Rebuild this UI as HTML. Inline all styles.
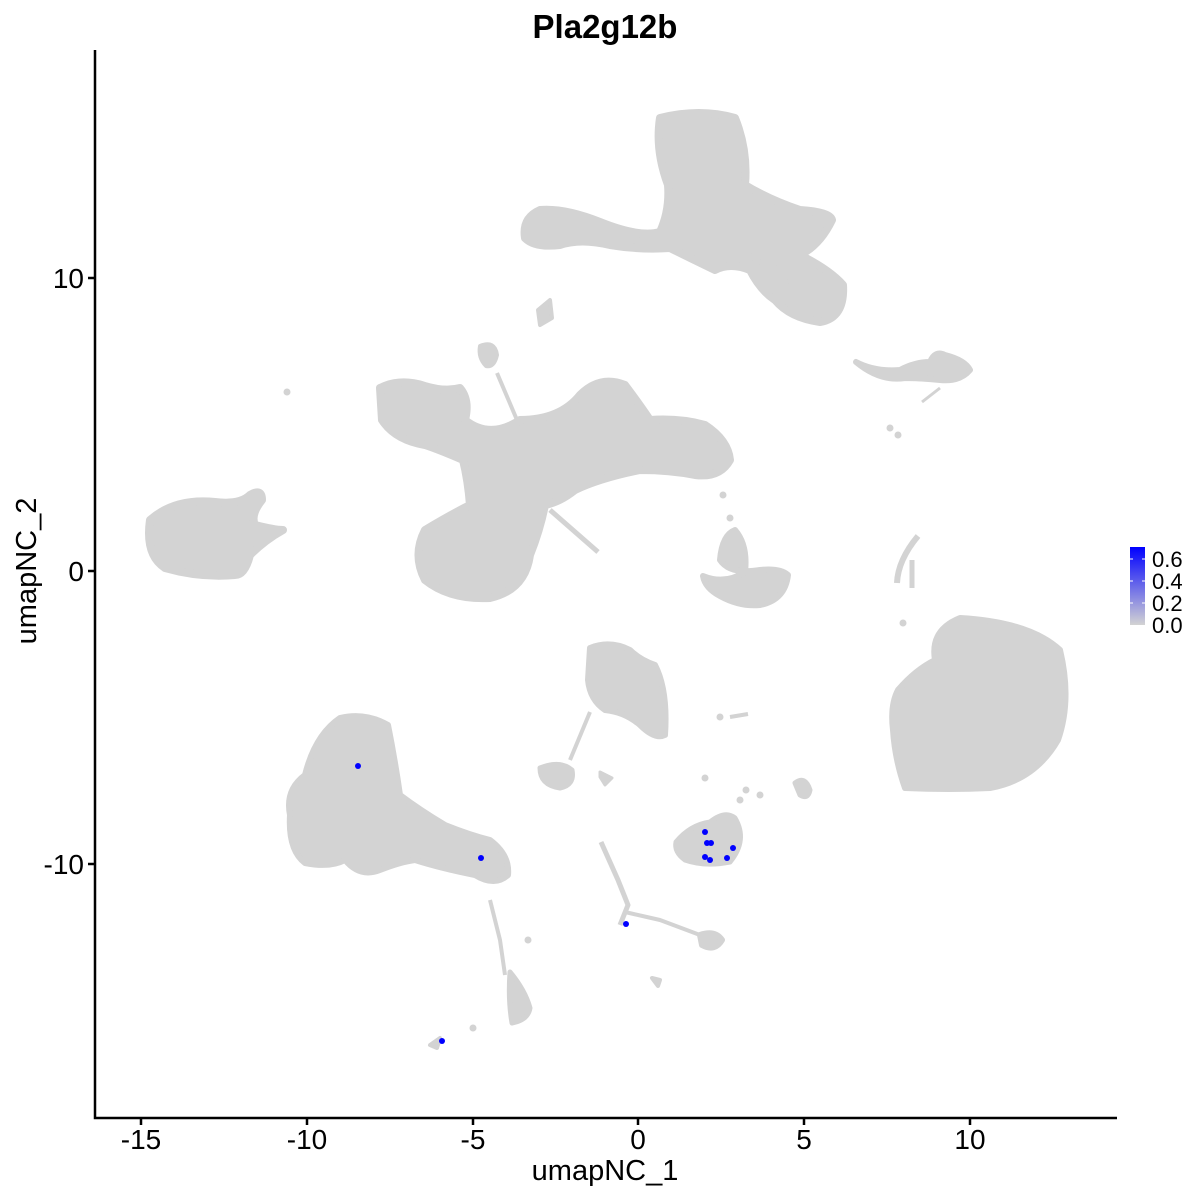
<!DOCTYPE html>
<html><head><meta charset="utf-8"><style>body{margin:0;background:#fff}svg{display:block}text{font-family:"Liberation Sans",sans-serif}</style></head>
<body>
<svg width="1200" height="1200" viewBox="0 0 1200 1200" xmlns="http://www.w3.org/2000/svg">
<defs><linearGradient id="g" x1="0" y1="1" x2="0" y2="0"><stop offset="0" stop-color="#d3d3d3"/><stop offset="1" stop-color="#0000ff"/></linearGradient></defs>
<g fill="#d3d3d3" stroke="#d3d3d3" stroke-linejoin="round">
<path stroke-width="8" d="M660 118 Q700 108 735 118 Q748 150 745 185 Q770 200 800 210 Q830 212 832 220 Q820 245 800 255 Q830 270 843 285 Q845 318 820 322 Q790 318 775 300 Q760 290 750 270 Q730 262 715 270 Q690 258 670 248 Q640 250 610 245 Q580 238 560 245 Q535 248 525 238 Q522 218 540 210 Q565 208 600 222 Q640 238 660 232 Q670 210 668 185 Q655 150 660 118Z"/>
<path stroke-width="5" d="M745 250 Q760 268 790 270 L800 280 L760 285Z"/>
<path stroke-width="4" d="M538 310 L550 300 L552 318 L540 325Z"/>
<path stroke-width="8" d="M380 388 Q400 378 425 386 Q445 392 460 388 Q470 400 465 420 Q490 440 520 420 Q560 420 580 395 Q600 375 625 385 Q640 405 650 420 Q680 418 705 425 Q728 440 730 460 Q720 478 695 475 Q670 470 640 470 Q600 478 575 490 Q560 502 545 505 Q540 530 530 555 Q525 590 490 598 Q450 600 425 580 Q412 555 425 530 Q450 515 470 505 Q468 480 463 460 Q440 450 425 445 Q395 440 382 420 Z"/>
<path stroke-width="4" d="M480 346 Q495 340 497 355 Q494 368 486 366 Q478 358 480 346Z"/>
<path stroke-width="4" fill="none" d="M497 373 L517 420"/>
<path stroke-width="5" fill="none" d="M550 510 L598 552"/>
<path stroke-width="8" d="M150 520 Q175 498 215 502 Q240 505 250 495 Q262 488 262 500 Q250 515 255 525 Q275 530 283 530 Q265 540 250 555 Q245 575 235 575 Q200 578 165 568 Q145 555 150 520Z"/>
<circle cx="287" cy="392" r="3"/>
<path stroke-width="6" d="M856 362 Q875 372 900 370 Q915 362 930 362 Q935 350 945 355 Q965 360 970 370 Q960 382 940 380 Q920 378 905 378 Q880 382 856 362Z"/>
<path stroke-width="3" fill="none" d="M922 402 L940 388"/>
<circle cx="890" cy="428" r="3"/><circle cx="898" cy="435" r="3"/>
<path stroke-width="6" d="M703 576 Q725 585 745 572 Q748 545 735 530 Q722 535 720 560 Q730 575 760 570 Q780 568 788 575 Q785 600 760 605 Q740 607 720 596 Q705 588 703 576Z"/>
<circle cx="723" cy="495" r="3"/><circle cx="730" cy="518" r="3"/>
<path stroke-width="6" fill="none" d="M918 536 Q898 560 897 583"/>
<path stroke-width="5" fill="none" d="M912 560 L912 588"/>
<circle cx="903" cy="623" r="3"/>
<path stroke-width="6" d="M960 618 Q1030 622 1060 650 Q1072 700 1058 740 Q1035 780 990 788 Q950 790 905 788 Q895 760 893 730 Q890 705 898 690 Q915 670 935 660 Q930 630 960 618Z"/>
<path stroke-width="6" d="M290 815 Q285 790 305 775 Q315 735 340 718 Q365 712 388 725 Q395 760 400 795 Q420 810 445 825 Q470 835 490 840 Q510 855 508 875 Q495 887 475 875 Q440 868 415 860 Q400 862 380 870 Q360 878 345 860 Q330 868 305 863 Q288 850 290 815Z"/>
<path stroke-width="4" fill="none" d="M490 900 L500 940 L505 975"/>
<path stroke-width="5" d="M510 972 Q525 990 530 1008 Q528 1020 512 1023 Q508 1000 510 972Z"/>
<circle cx="473" cy="1028" r="3"/><circle cx="528" cy="940" r="3"/>
<path stroke-width="4" d="M430 1045 L440 1038 L437 1048Z"/>
<path stroke-width="6" d="M590 648 Q610 640 630 650 Q640 660 655 665 Q668 690 665 735 Q655 740 640 725 Q625 712 605 710 Q590 700 588 680Z"/>
<path stroke-width="4" fill="none" d="M590 712 L570 760"/>
<path stroke-width="5" d="M540 768 Q560 760 572 770 Q575 785 560 788 Q540 785 540 768Z"/>
<path stroke-width="3" d="M600 777 L600 772 L612 778 L605 785Z"/>
<circle cx="720" cy="717" r="3"/><path stroke-width="4" fill="none" d="M730 717 L748 714"/>
<circle cx="705" cy="778" r="3"/>
<path stroke-width="5" d="M795 783 Q805 775 810 790 Q808 800 800 795Z"/>
<path stroke-width="5" d="M676 842 Q690 825 710 822 Q725 810 735 818 Q748 840 730 862 Q705 867 685 860 Q674 852 676 842Z"/>
<circle cx="740" cy="800" r="3"/><circle cx="746" cy="790" r="3"/><circle cx="760" cy="795" r="3"/>
<path stroke-width="5" fill="none" d="M601 842 L618 880 L628 905 L620 925"/>
<path stroke-width="4" fill="none" d="M625 912 L660 920 L700 935"/>
<path stroke-width="6" d="M700 935 Q715 930 722 940 Q715 952 702 945Z"/>
<path stroke-width="4" d="M652 978 L660 980 L658 986 Z"/>
</g>
<g fill="#0000ff">
<circle cx="358" cy="766" r="3"/><circle cx="481" cy="858" r="3"/><circle cx="626" cy="924" r="3"/><circle cx="442" cy="1041" r="3"/>
<circle cx="705" cy="832" r="3"/><circle cx="707" cy="843" r="3"/><circle cx="711" cy="843" r="3"/><circle cx="733" cy="848" r="3"/>
<circle cx="705" cy="857" r="3"/><circle cx="710" cy="860" r="3"/><circle cx="727" cy="858" r="3"/>
</g>
<g stroke="#000" stroke-width="2.5" fill="none">
<path d="M95 50 V1118 H1117"/>
<path d="M141 1118 v7 M307 1118 v7 M473 1118 v7 M638 1118 v7 M804 1118 v7 M970 1118 v7"/>
<path d="M88 278 h7 M88 571 h7 M88 864 h7"/>
</g>
<g font-size="28" fill="#000" text-anchor="middle">
<text x="141" y="1149">-15</text><text x="307" y="1149">-10</text><text x="473" y="1149">-5</text>
<text x="638" y="1149">0</text><text x="804" y="1149">5</text><text x="970" y="1149">10</text>
</g>
<g font-size="28" fill="#000" text-anchor="end">
<text x="84" y="288">10</text><text x="84" y="581">0</text><text x="84" y="874">-10</text>
</g>
<text x="605" y="1180" font-size="29" text-anchor="middle">umapNC_1</text>
<text transform="translate(36 571) rotate(-90)" font-size="29" text-anchor="middle">umapNC_2</text>
<text x="605" y="38" font-size="33" font-weight="bold" text-anchor="middle">Pla2g12b</text>
<rect x="1130" y="547" width="15" height="78" fill="url(#g)"/>
<g stroke="#fff" stroke-width="1"><path d="M1130 559h3M1142 559h3M1130 581h3M1142 581h3M1130 603h3M1142 603h3"/></g>
<g font-size="22" fill="#000">
<text x="1152" y="567">0.6</text><text x="1152" y="589">0.4</text><text x="1152" y="611">0.2</text><text x="1152" y="633">0.0</text>
</g>
</svg>
</body></html>
